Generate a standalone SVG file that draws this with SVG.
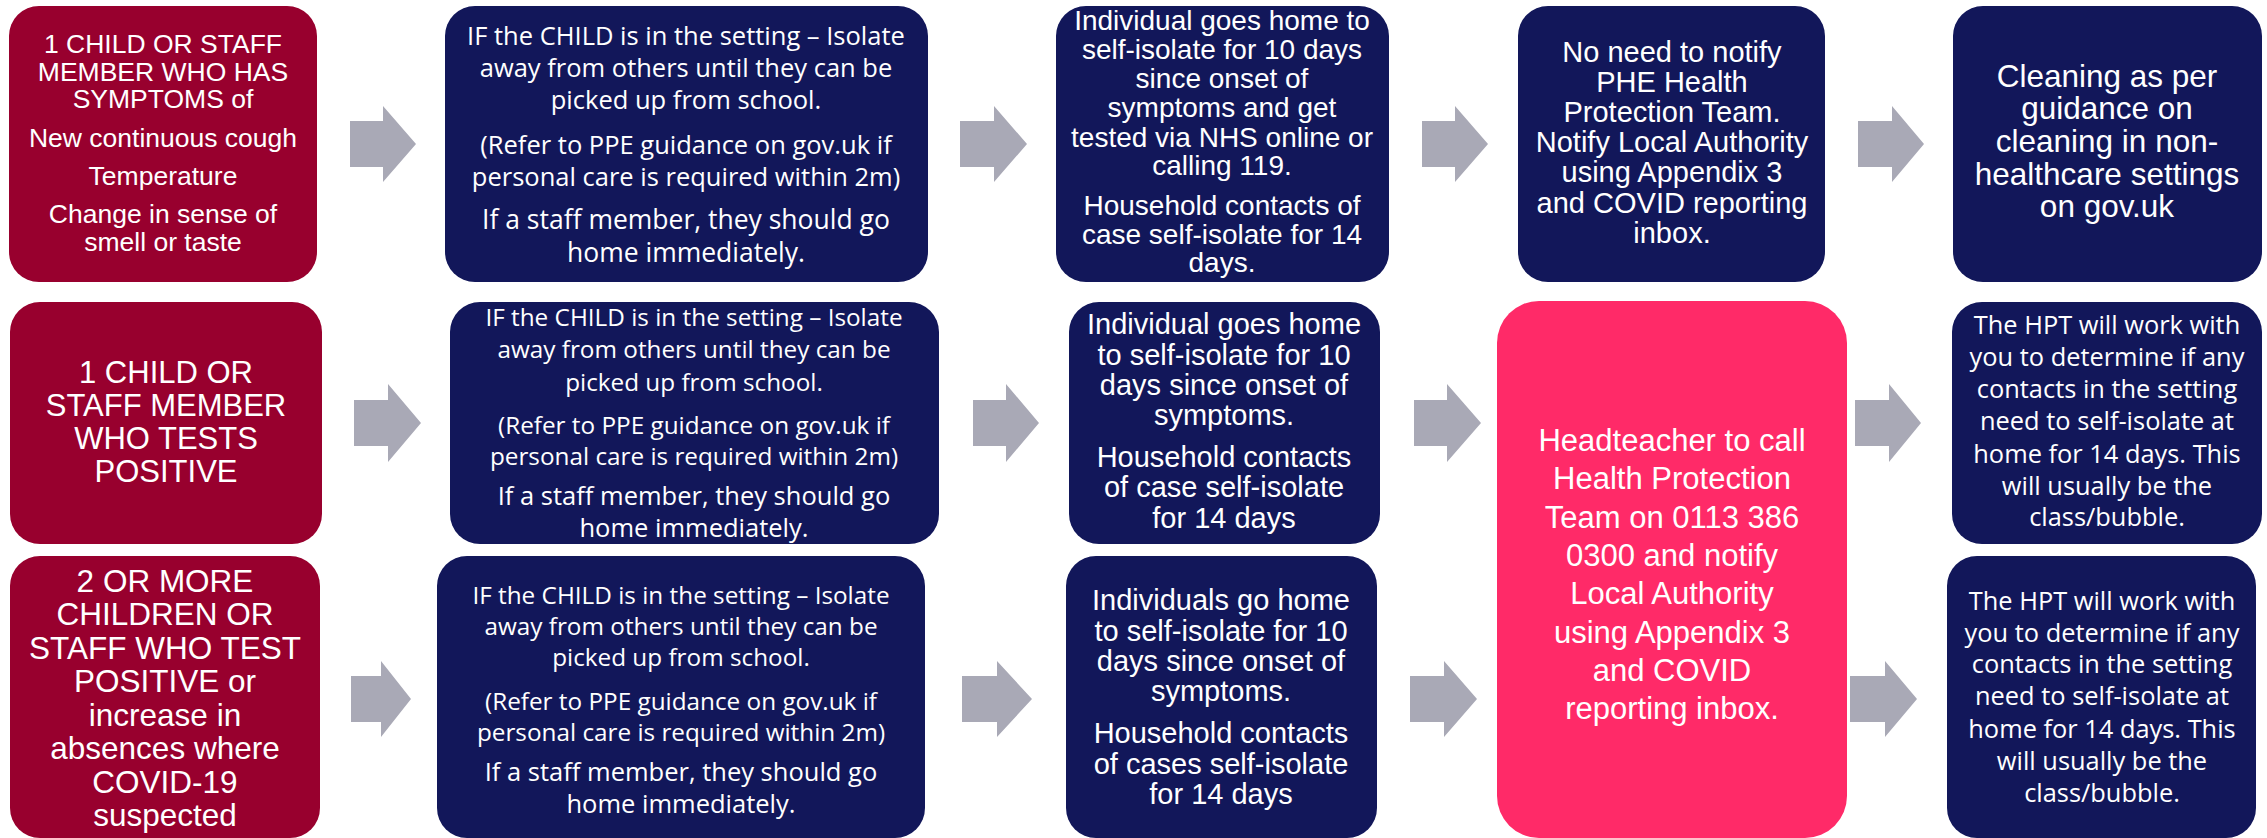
<svg xmlns="http://www.w3.org/2000/svg" width="2267" height="838" viewBox="0 0 2267 838">
<style>
.red{fill:#98002E}
.navy{fill:#12175A}
.pink{fill:#FF2A68}
.arr{fill:#A9A9B6}
text{fill:#FFFFFF;text-anchor:middle}
.a{font-family:"Liberation Sans",Arial,sans-serif}
.c{font-family:"Open Sans","Liberation Sans",sans-serif}
</style>
<rect width="2267" height="838" fill="#FFFFFF"/>
<g id="connectors">
<polygon class="arr" points="350,121 383,121 383,106 416,144 383,182 383,167 350,167"/>
<polygon class="arr" points="960,121 994,121 994,106 1027,144 994,182 994,167 960,167"/>
<polygon class="arr" points="1422,121 1455,121 1455,106 1488,144 1455,182 1455,167 1422,167"/>
<polygon class="arr" points="1858,121 1892,121 1892,106 1924,144 1892,182 1892,167 1858,167"/>
<polygon class="arr" points="354,400 388,400 388,384 421,423 388,462 388,446 354,446"/>
<polygon class="arr" points="973,400 1006,400 1006,384 1039,423 1006,462 1006,446 973,446"/>
<polygon class="arr" points="1414,400 1447,400 1447,384 1481,423 1447,462 1447,446 1414,446"/>
<polygon class="arr" points="1855,400 1889,400 1889,384 1921,423 1889,462 1889,446 1855,446"/>
<polygon class="arr" points="351,676 381,676 381,661 411,699 381,737 381,722 351,722"/>
<polygon class="arr" points="962,676 997,676 997,661 1032,699 997,737 997,722 962,722"/>
<polygon class="arr" points="1410,676 1444,676 1444,661 1477,699 1444,737 1444,722 1410,722"/>
<polygon class="arr" points="1850,676 1885,676 1885,661 1917,699 1885,737 1885,722 1850,722"/>
</g>
<g id="r1c1">
<rect class="red" x="9" y="6" width="308" height="276" rx="30"/>
<text class="a" font-size="26.5"><tspan x="163" y="53">1 CHILD OR STAFF</tspan><tspan x="163" y="81">MEMBER WHO HAS</tspan><tspan x="163" y="108">SYMPTOMS of</tspan><tspan x="163" y="147">New continuous cough</tspan><tspan x="163" y="185">Temperature</tspan><tspan x="163" y="223">Change in sense of</tspan><tspan x="163" y="251">smell or taste</tspan></text>
</g>
<g id="r1c2">
<rect class="navy" x="445" y="6" width="483" height="276" rx="30"/>
<text class="c" font-size="25.5"><tspan x="686" y="45">IF the CHILD is in the setting – Isolate</tspan><tspan x="686" y="77">away from others until they can be</tspan><tspan x="686" y="109">picked up from school.</tspan><tspan x="686" y="154">(Refer to PPE guidance on gov.uk if</tspan><tspan x="686" y="186">personal care is required within 2m)</tspan></text>
<text class="c" font-size="26.5"><tspan x="686" y="229">If a staff member, they should go</tspan><tspan x="686" y="262">home immediately.</tspan></text>
</g>
<g id="r1c3">
<rect class="navy" x="1056" y="6" width="333" height="276" rx="30"/>
<text class="a" font-size="28"><tspan x="1222" y="30">Individual goes home to</tspan><tspan x="1222" y="59">self-isolate for 10 days</tspan><tspan x="1222" y="88">since onset of</tspan><tspan x="1222" y="117">symptoms and get</tspan><tspan x="1222" y="147">tested via NHS online or</tspan><tspan x="1222" y="175">calling 119.</tspan><tspan x="1222" y="215">Household contacts of</tspan><tspan x="1222" y="244">case self-isolate for 14</tspan><tspan x="1222" y="272">days.</tspan></text>
</g>
<g id="r1c4">
<rect class="navy" x="1518" y="6" width="307" height="276" rx="30"/>
<text class="a" font-size="29"><tspan x="1672" y="62">No need to notify</tspan><tspan x="1672" y="92">PHE Health</tspan><tspan x="1672" y="122">Protection Team.</tspan><tspan x="1672" y="152">Notify Local Authority</tspan><tspan x="1672" y="182">using Appendix 3</tspan><tspan x="1672" y="213">and COVID reporting</tspan><tspan x="1672" y="243">inbox.</tspan></text>
</g>
<g id="r1c5">
<rect class="navy" x="1953" y="6" width="309" height="276" rx="30"/>
<text class="a" font-size="31.5"><tspan x="2107" y="87">Cleaning as per</tspan><tspan x="2107" y="119">guidance on</tspan><tspan x="2107" y="152">cleaning in non-</tspan><tspan x="2107" y="185">healthcare settings</tspan><tspan x="2107" y="217">on gov.uk</tspan></text>
</g>
<g id="r2c1">
<rect class="red" x="10" y="302" width="312" height="242" rx="30"/>
<text class="a" font-size="31"><tspan x="166" y="383">1 CHILD OR</tspan><tspan x="166" y="416">STAFF MEMBER</tspan><tspan x="166" y="449">WHO TESTS</tspan><tspan x="166" y="482">POSITIVE</tspan></text>
</g>
<g id="r2c2">
<rect class="navy" x="450" y="302" width="489" height="242" rx="30"/>
<text class="c" font-size="24.3"><tspan x="694" y="326">IF the CHILD is in the setting – Isolate</tspan><tspan x="694" y="358">away from others until they can be</tspan><tspan x="694" y="391">picked up from school.</tspan><tspan x="694" y="434">(Refer to PPE guidance on gov.uk if</tspan><tspan x="694" y="465">personal care is required within 2m)</tspan></text>
<text class="c" font-size="25.5"><tspan x="694" y="505">If a staff member, they should go</tspan><tspan x="694" y="537">home immediately.</tspan></text>
</g>
<g id="r2c3">
<rect class="navy" x="1069" y="302" width="311" height="242" rx="30"/>
<text class="a" font-size="29"><tspan x="1224" y="334">Individual goes home</tspan><tspan x="1224" y="365">to self-isolate for 10</tspan><tspan x="1224" y="395">days since onset of</tspan><tspan x="1224" y="425">symptoms.</tspan><tspan x="1224" y="467">Household contacts</tspan><tspan x="1224" y="497">of case self-isolate</tspan><tspan x="1224" y="528">for 14 days</tspan></text>
</g>
<g id="hpt-call">
<rect class="pink" x="1497" y="301" width="350" height="537" rx="42"/>
<text class="a" font-size="31"><tspan x="1672" y="451">Headteacher to call</tspan><tspan x="1672" y="489">Health Protection</tspan><tspan x="1672" y="528">Team on 0113 386</tspan><tspan x="1672" y="566">0300 and notify</tspan><tspan x="1672" y="604">Local Authority</tspan><tspan x="1672" y="643">using Appendix 3</tspan><tspan x="1672" y="681">and COVID</tspan><tspan x="1672" y="719">reporting inbox.</tspan></text>
</g>
<g id="r2c5">
<rect class="navy" x="1952" y="302" width="310" height="242" rx="30"/>
<text class="c" font-size="25.4"><tspan x="2107" y="334">The HPT will work with</tspan><tspan x="2107" y="366">you to determine if any</tspan><tspan x="2107" y="398">contacts in the setting</tspan><tspan x="2107" y="430">need to self-isolate at</tspan><tspan x="2107" y="463">home for 14 days. This</tspan><tspan x="2107" y="495">will usually be the</tspan><tspan x="2107" y="526">class/bubble.</tspan></text>
</g>
<g id="r3c1">
<rect class="red" x="10" y="556" width="310" height="282" rx="30"/>
<text class="a" font-size="31.5"><tspan x="165" y="592">2 OR MORE</tspan><tspan x="165" y="625">CHILDREN OR</tspan><tspan x="165" y="659">STAFF WHO TEST</tspan><tspan x="165" y="692">POSITIVE or</tspan><tspan x="165" y="726">increase in</tspan><tspan x="165" y="759">absences where</tspan><tspan x="165" y="793">COVID-19</tspan><tspan x="165" y="826">suspected</tspan></text>
</g>
<g id="r3c2">
<rect class="navy" x="437" y="556" width="488" height="282" rx="30"/>
<text class="c" font-size="24.3"><tspan x="681" y="604">IF the CHILD is in the setting – Isolate</tspan><tspan x="681" y="635">away from others until they can be</tspan><tspan x="681" y="666">picked up from school.</tspan><tspan x="681" y="710">(Refer to PPE guidance on gov.uk if</tspan><tspan x="681" y="741">personal care is required within 2m)</tspan></text>
<text class="c" font-size="25.5"><tspan x="681" y="781">If a staff member, they should go</tspan><tspan x="681" y="813">home immediately.</tspan></text>
</g>
<g id="r3c3">
<rect class="navy" x="1066" y="556" width="311" height="282" rx="30"/>
<text class="a" font-size="29"><tspan x="1221" y="610">Individuals go home</tspan><tspan x="1221" y="641">to self-isolate for 10</tspan><tspan x="1221" y="671">days since onset of</tspan><tspan x="1221" y="701">symptoms.</tspan><tspan x="1221" y="743">Household contacts</tspan><tspan x="1221" y="774">of cases self-isolate</tspan><tspan x="1221" y="804">for 14 days</tspan></text>
</g>
<g id="r3c5">
<rect class="navy" x="1947" y="556" width="309" height="282" rx="30"/>
<text class="c" font-size="25.4"><tspan x="2102" y="610">The HPT will work with</tspan><tspan x="2102" y="642">you to determine if any</tspan><tspan x="2102" y="673">contacts in the setting</tspan><tspan x="2102" y="705">need to self-isolate at</tspan><tspan x="2102" y="738">home for 14 days. This</tspan><tspan x="2102" y="770">will usually be the</tspan><tspan x="2102" y="802">class/bubble.</tspan></text>
</g>
</svg>
